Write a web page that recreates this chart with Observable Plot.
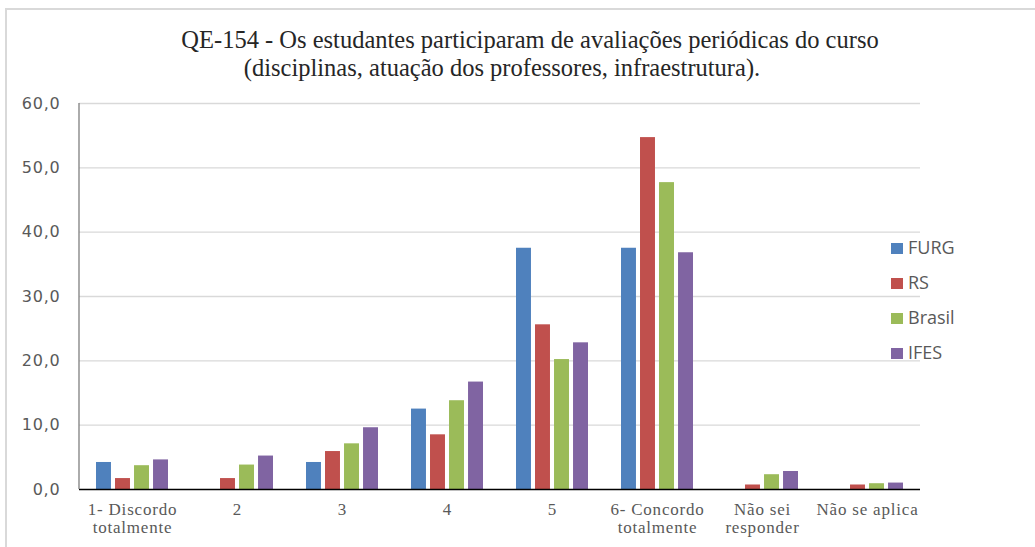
<!DOCTYPE html>
<html>
<head>
<meta charset="utf-8">
<script src="https://cdn.jsdelivr.net/npm/d3@7"></script>
<script src="https://cdn.jsdelivr.net/npm/@observablehq/plot@0.6"></script>
<style>
  html, body { margin: 0; padding: 0; background: #fff; }
  #wrap { position: relative; width: 1035px; height: 547px; overflow: hidden; background: #fff; }
  #frame { position: absolute; left: 5px; top: 8px; right: -10px; bottom: -10px;
           border-top: 2px solid #d9d9d9; border-left: 2px solid #d9d9d9; }
  #chart { position: absolute; left: 0; top: 0; }
  .leg { position: absolute; font-family: 'Open Sans', sans-serif; font-size: 18px; color: #595959;
         white-space: nowrap; line-height: 1; }
  .leg span { display: inline-block; width: 12px; height: 11px; margin-right: 5px; vertical-align: 0px; }
</style>
</head>
<body>
<div id="wrap">
  <div id="frame"></div>
  <div id="chart"></div>
  <div id="legend"></div>
</div>
<script>
const titleLines = [
  "QE-154 - Os estudantes participaram de avaliações periódicas do curso",
  "(disciplinas, atuação dos professores, infraestrutura)."
];
const categories = ["1- Discordo\ntotalmente", "2", "3", "4", "5", "6- Concordo\ntotalmente", "Não sei\nresponder", "Não se aplica"];
const seriesNames = ["FURG", "RS", "Brasil", "IFES"];
const seriesColors = ["#4F81BD", "#C0504D", "#9BBB59", "#8064A2"];
const FURG   = [4.2, 0,   4.2, 12.5, 37.5, 37.5, 0,   0];
const RS     = [1.7, 1.7, 5.9, 8.5,  25.6, 54.7, 0.7, 0.7];
const Brasil = [3.7, 3.8, 7.1, 13.8, 20.2, 47.7, 2.3, 0.9];
const IFES   = [4.6, 5.2, 9.6, 16.7, 22.8, 36.8, 2.8, 1.0];
const yTicks = [0, 10, 20, 30, 40, 50, 60];

const seriesValues = [FURG, RS, Brasil, IFES];
const data = [];
seriesNames.forEach((s, si) => categories.forEach((c, ci) => data.push({cat: c, series: s, value: seriesValues[si][ci]})));

const W = 1035, H = 547;
const mL = 79, mR = 115, mT = 103, mB = 58;
const bandFrac = 1 - 0.31;
const bandwidth = (W - mL - mR) / categories.length * bandFrac;
const barW = 15.5;
const pitch = (bandwidth - barW) / 3;

const leftLine = (index, scales, values, dims) => {
  const ns = "http://www.w3.org/2000/svg";
  const l = document.createElementNS(ns, "line");
  l.setAttribute("x1", dims.marginLeft); l.setAttribute("x2", dims.marginLeft);
  l.setAttribute("y1", dims.marginTop); l.setAttribute("y2", dims.height - dims.marginBottom);
  l.setAttribute("stroke", "#7f7f7f"); l.setAttribute("stroke-width", 1.3);
  return l;
};

const barMarks = seriesNames.map((s, i) => Plot.barY(data.filter(d => d.series === s), {
  x: "cat", y: "value", fill: seriesColors[i],
  insetLeft: i * pitch, insetRight: bandwidth - barW - i * pitch
}));

const titleStyle = {frameAnchor: "top", fontFamily: "Liberation Serif", fontSize: 24.5, fill: "#262626", lineAnchor: "middle"};

const plot = Plot.plot({
  width: W, height: H,
  marginLeft: mL, marginRight: mR, marginTop: mT, marginBottom: mB,
  style: {background: "transparent", color: "#595959", overflow: "visible"},
  x: {domain: categories, paddingInner: 0.31, paddingOuter: 0.155, axis: null, label: null},
  y: {domain: [0, 60], axis: null, label: null},
  marks: [
    Plot.gridY(yTicks.filter(t => t > 0), {stroke: "#d9d9d9", strokeOpacity: 1, strokeWidth: 1.3}),
    ...barMarks,
    Plot.ruleY([0], {stroke: "#000", strokeWidth: 1.6}),
    leftLine,
    Plot.axisY(yTicks, {tickSize: 0, tickPadding: 19, fontSize: 16, fontFamily: "DejaVu Sans", label: null,
      tickFormat: d => d.toFixed(1).replace(".", ","), fill: "#595959"}),
    Plot.axisX({tickSize: 0, tickPadding: 12, fontSize: 17, fontFamily: "Liberation Serif", label: null,
      lineHeight: 1.1, fill: "#595959", tickFormat: d => d}),
    Plot.text([titleLines[0]], {...titleStyle, text: d => d, dx: 30, dy: -63}),
    Plot.text([titleLines[1]], {...titleStyle, text: d => d, dx: 2, dy: -35})
  ]
});
plot.querySelectorAll("g[aria-label='y-axis tick label'] text, g[aria-label='x-axis tick label'] text")
  .forEach(t => t.style.letterSpacing = "0.8px");
document.getElementById("chart").appendChild(plot);

const legend = document.getElementById("legend");
seriesNames.forEach((s, i) => {
  const div = document.createElement("div");
  div.className = "leg";
  div.style.left = "891px";
  div.style.top = (238 + i * 35) + "px";
  div.innerHTML = `<span style="background:${seriesColors[i]}"></span>${s}`;
  legend.appendChild(div);
});
</script>
</body>
</html>
